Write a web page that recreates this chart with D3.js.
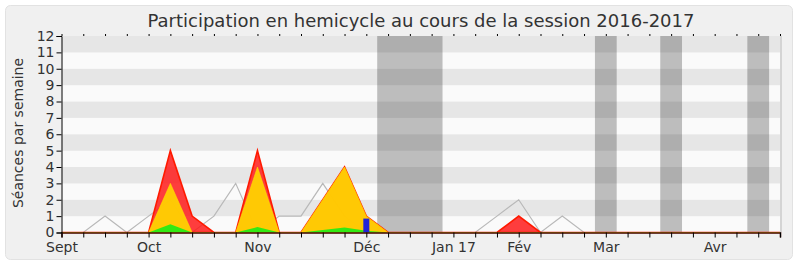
<!DOCTYPE html>
<html><head><meta charset="utf-8">
<script src="https://cdn.jsdelivr.net/npm/d3@7"></script>
<style>
html,body{margin:0;padding:0;background:#fff;}
svg{display:block;font-family:"DejaVu Sans",sans-serif;}
</style></head>
<body>
<svg id="c" width="800" height="267"></svg>
<script>
// ---- data ----
const weeks = [0,1,2,3,4,5,6,7,8,9,10,11,12,13,14,15,16,17,18,19,20,21,22,23,24,25,26,27,28,29,30,31,32,33];
const redVals    = [0,0,0,0,0,5,1,0,0,5,0,0,2,4,1,0,0,0,0,0,0,1,0,0,0,0,0,0,0,0,0,0,0,0];
const yellowVals = [0,0,0,0,0,3,0,0,0,4,0,0,2,4,1,0,0,0,0,0,0,0,0,0,0,0,0,0,0,0,0,0,0,0];
const greenVals  = [0,0,0,0,0,0.5,0,0,0,0.33,0,0,0.15,0.3,0.1,0,0,0,0,0,0,0,0,0,0,0,0,0,0,0,0,0,0,0];
const greyVals   = [0,0,1,0,1,2,0,1,3,0,1,1,3,1,0,0,0,0,0,0,1,2,0,1,0,0,0,0,0,0,0,0,0,0];
const blueVals   = [0,0,0,0,0,0,0,0,0,0,0,0,0,0,0.85,0,0,0,0,0,0,0,0,0,0,0,0,0,0,0,0,0,0,0];
const monthTicks = [0,4,9,14,18,21,25,30];
const monthLabels = ["Sept","Oct","Nov","Déc","Jan 17","Fév","Mar","Avr"];
const holidayStart = [14.5,24.5,27.5,31.5];
const holidayEnd   = [17.5,25.5,28.5,32.5];
const yTicks = [0,1,2,3,4,5,6,7,8,9,10,11,12];
const title = "Participation en hemicycle au cours de la session 2016-2017";
const yTitle = "Séances par semaine";

// ---- layout ----
const FONT = "DejaVu Sans, sans-serif";
const svg = d3.select("#c");
const L = 61.5, R = 780, T = 36, B = 232.5;
const x = d3.scaleLinear().domain([0,33]).range([L,R]);
const y = d3.scaleLinear().domain([0,12]).range([B,T]);

svg.append("rect").attr("x",5.5).attr("y",5.5).attr("width",787).attr("height",254)
  .attr("rx",5).attr("fill","#f0f0f0").attr("stroke","#e2e2e2");

// stripes
svg.append("g").selectAll("rect").data(yTicks.slice(0,12)).join("rect")
  .attr("x",L).attr("width",R-L)
  .attr("y",d=>y(d+1)).attr("height",d=>y(d)-y(d+1))
  .attr("fill",d=>d%2===1?"#e6e6e6":"#fafafa");
svg.append("line").attr("x1",R+1).attr("x2",R+1).attr("y1",T).attr("y2",B)
  .attr("stroke","#d4d4d4").attr("stroke-width",2);

// holiday bands
svg.append("g").selectAll("rect").data(holidayStart).join("rect")
  .attr("x",d=>x(d)).attr("width",(d,i)=>x(holidayEnd[i])-x(d))
  .attr("y",T).attr("height",B-T)
  .attr("fill","rgba(0,0,0,0.245)");

// grey line
svg.append("path").datum(weeks)
  .attr("d",d3.line().x(d=>x(d)).y(d=>y(greyVals[d])))
  .attr("fill","none").attr("stroke","#b8b8b8").attr("stroke-width",1.2);

function area(vals, fill, stroke, sw){
  svg.append("path").datum(weeks)
    .attr("d",d3.area().x(d=>x(d)).y0(y(0)).y1(d=>y(vals[d])))
    .attr("fill",fill).attr("stroke",stroke).attr("stroke-width",sw);
}
area(redVals,"rgba(255,20,20,0.82)","#ff1a00",1.6);
area(yellowVals,"rgba(255,212,0,0.93)","#ffe000",0.6);
area(greenVals,"rgba(40,235,20,0.95)","none",0);

// blue bars
svg.append("g").selectAll("rect").data(weeks.filter(d=>blueVals[d]>0)).join("rect")
  .attr("x",d=>x(d)-3).attr("width",6)
  .attr("y",d=>y(blueVals[d])).attr("height",d=>y(0)-y(blueVals[d]))
  .attr("fill","#2424d8");

// axes
const lbl = new Map(monthTicks.map((t,i)=>[t,monthLabels[i]]));
const gx = svg.append("g").attr("transform",`translate(0,${B})`)
  .call(d3.axisBottom(x).tickValues(weeks).tickSize(5).tickPadding(5).tickFormat(d=>lbl.get(d)||""));
gx.attr("font-family",FONT).attr("font-size",14);
gx.select(".domain").attr("stroke","#401008").attr("stroke-width",1.6);
gx.selectAll("text").attr("fill","#333");
gx.selectAll(".tick line").attr("stroke","#000");

const gt = svg.append("g").attr("transform",`translate(0,${T})`)
  .call(d3.axisTop(x).tickValues(weeks).tickSize(2).tickFormat(""));
gt.select(".domain").remove();

const gy = svg.append("g").attr("transform",`translate(${L},0)`)
  .call(d3.axisLeft(y).tickValues(yTicks).tickSize(5).tickPadding(2));
gy.attr("font-family",FONT).attr("font-size",14);
gy.selectAll("text").attr("fill","#333");
gy.select(".domain").attr("stroke","#000");

svg.append("text").attr("x",421).attr("y",27).attr("text-anchor","middle")
  .attr("font-size",18).attr("fill","#333").text(title);
svg.append("text").attr("transform","translate(23,133) rotate(-90)")
  .attr("text-anchor","middle").attr("font-size",14).attr("fill","#333").text(yTitle);
</script>
</body></html>
